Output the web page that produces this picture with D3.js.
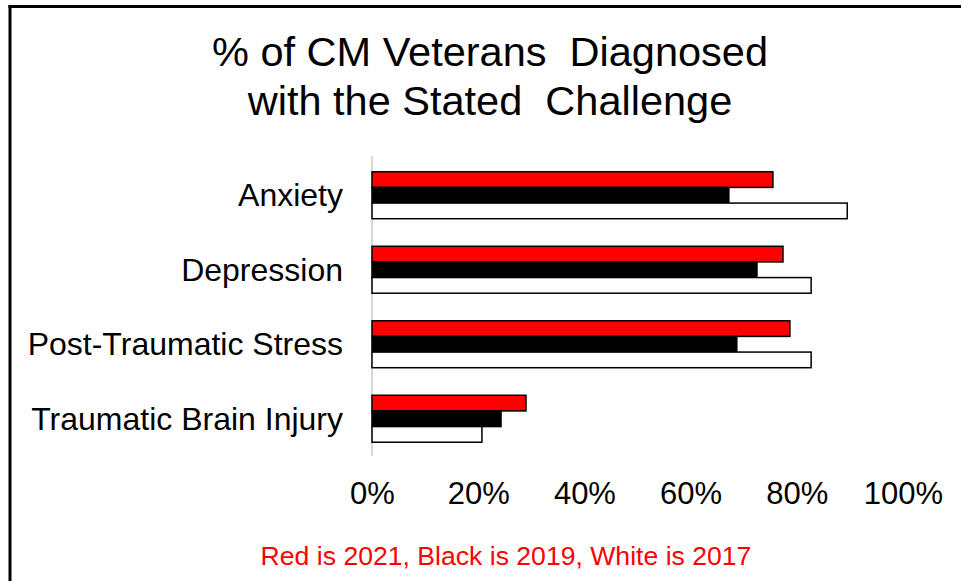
<!DOCTYPE html>
<html>
<head>
<meta charset="utf-8">
<script src="https://cdn.jsdelivr.net/npm/d3@7"></script>
<style>
  html, body { margin: 0; padding: 0; background: #fff; }
  svg { display: block; }
  text { font-family: "Liberation Sans", Arial, sans-serif; }
</style>
</head>
<body>
<svg id="chart" width="961" height="581"></svg>
<script>
const categories = ["Anxiety", "Depression", "Post-Traumatic Stress", "Traumatic Brain Injury"];
const seriesNames = ["2021", "2019", "2017"];
const values2021 = [0.755, 0.774, 0.787, 0.29];
const values2019 = [0.672, 0.725, 0.687, 0.243];
const values2017 = [0.895, 0.827, 0.827, 0.207];
const tickValues = [0, 0.2, 0.4, 0.6, 0.8, 1.0];
const titleLines = ["% of CM Veterans  Diagnosed", "with the Stated  Challenge"];
const footnote = "Red is 2021, Black is 2019, White is 2017";
const seriesColors = ["#ff0000", "#000000", "#ffffff"];

const svg = d3.select("#chart");

// frame
svg.append("line").attr("x1", 10).attr("x2", 10).attr("y1", 5).attr("y2", 581)
  .attr("stroke", "#000").attr("stroke-width", 3);
svg.append("line").attr("x1", 8.5).attr("x2", 961).attr("y1", 6.5).attr("y2", 6.5)
  .attr("stroke", "#000").attr("stroke-width", 3);

// title
svg.append("text")
  .attr("x", 490).attr("text-anchor", "middle")
  .attr("font-size", 41.5).attr("fill", "#000")
  .style("white-space", "pre")
  .selectAll("tspan").data(titleLines).join("tspan")
  .attr("x", 490).attr("y", (d, i) => i === 0 ? 66 : 115)
  .text(d => d);

const x = d3.scaleLinear().domain([0, 1]).range([372, 903]);
const y = d3.scaleBand().domain(categories).range([158, 456])
  .paddingInner(0.37).paddingOuter(0.185);
const ySub = d3.scaleBand().domain(seriesNames).range([0, y.bandwidth()]);

const data = categories.map((c, i) => ({
  cat: c,
  vals: [values2021[i], values2019[i], values2017[i]]
}));

// axis line
svg.append("line").attr("x1", x(0)).attr("x2", x(0)).attr("y1", 156).attr("y2", 456)
  .attr("stroke", "#d9d9d9").attr("stroke-width", 2);

const groups = svg.append("g").selectAll("g").data(data).join("g")
  .attr("transform", d => `translate(0,${y(d.cat)})`);

groups.selectAll("rect").data(d => d.vals.map((v, i) => ({ v, s: seriesNames[i], i })))
  .join("rect")
  .attr("x", x(0))
  .attr("y", d => ySub(d.s))
  .attr("width", d => x(d.v) - x(0))
  .attr("height", ySub.bandwidth())
  .attr("fill", d => seriesColors[d.i])
  .attr("stroke", "#000")
  .attr("stroke-width", 1.5);

// category labels
svg.append("g").selectAll("text").data(categories).join("text")
  .attr("x", 343)
  .attr("y", d => y(d) + y.bandwidth() / 2 + 11)
  .attr("text-anchor", "end")
  .attr("font-size", 32)
  .attr("fill", "#000")
  .text(d => d);

// x axis labels
const xAxis = d3.axisBottom(x).tickValues(tickValues).tickSize(0).tickPadding(0)
  .tickFormat(d3.format(".0%"));
const gx = svg.append("g").attr("transform", "translate(0,482)").call(xAxis);
gx.select(".domain").remove();
gx.selectAll("text").attr("font-size", 31).attr("fill", "#000")
  .attr("font-family", "Liberation Sans, Arial, sans-serif")
  .attr("dy", "0.71em");

// footnote
svg.append("text").attr("x", 506).attr("y", 565).attr("text-anchor", "middle")
  .attr("font-size", 26.6).attr("fill", "#ff0000").text(footnote);
</script>
</body>
</html>
